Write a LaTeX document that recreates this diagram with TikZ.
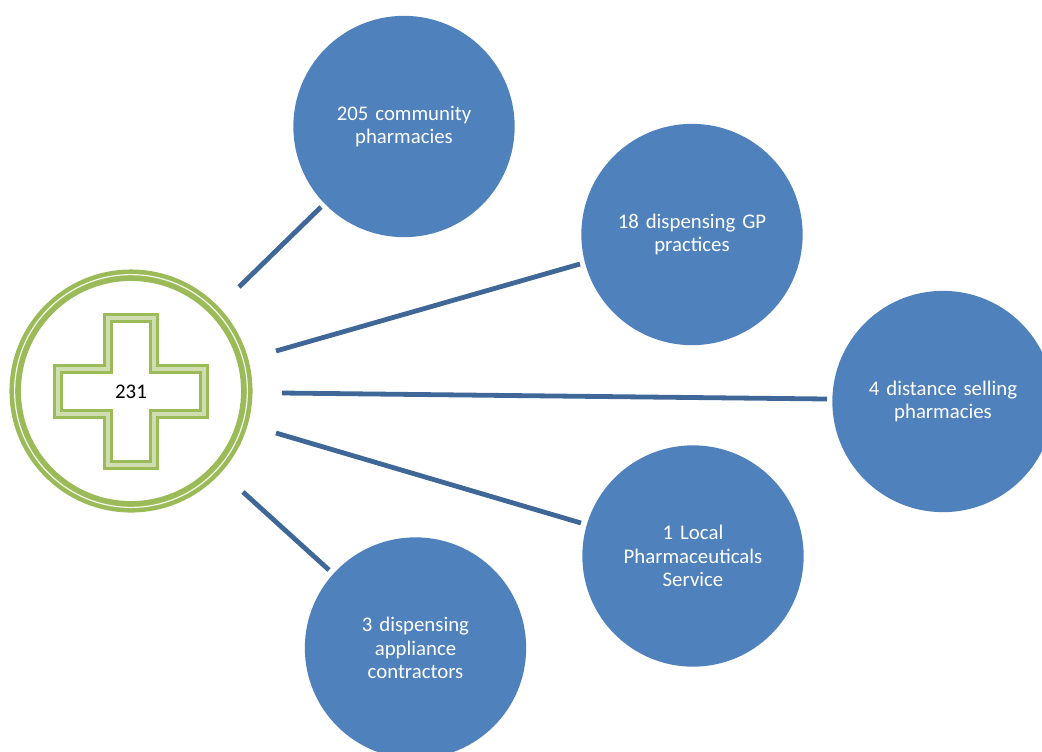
\documentclass[tikz,border=0pt]{standalone}
\usepackage{fontspec}
\setmainfont{Carlito}
\definecolor{bluefill}{HTML}{4F81BD}
\definecolor{linkblue}{HTML}{3F6797}
\definecolor{ringgreen}{HTML}{9BBB59}
\definecolor{palegreen}{HTML}{CFDDB0}
\tikzset{
  px/.style={x=0.75pt,y=-0.75pt},
  bubble/.style={circle,fill=bluefill,draw=none,minimum size=166pt,inner sep=0pt,text=white,
    font=\fontsize{15.6pt}{17.6pt}\selectfont,align=center,text width=125pt},
  link/.style={draw=linkblue,line width=3.6pt},
  ringout/.style={circle,draw=ringgreen,fill=white,line width=8.6pt,inner sep=0pt,outer sep=0pt},
  ringgapline/.style={circle,draw=white!90!ringgreen,line width=0.9pt,inner sep=0pt,outer sep=0pt},
}
\begin{document}
\begin{tikzpicture}[px]
\useasboundingbox (0,0) rectangle (1042,751);
\clip (0,0) rectangle (1042,751);
% ring
\node[ringout,minimum size=173.7pt] (ring) at (131,391) {};
\node[ringgapline,minimum size=174.6pt] (ringgap) at (131,391) {};
% cross
\def\crosspath{(108,318) -- (154,318) -- (154,369) -- (204,369) -- (204,414) -- (154,414) -- (154,465) -- (108,465) -- (108,414) -- (58,414) -- (58,369) -- (108,369) -- cycle}
\draw[ringgreen,line width=7.9pt,miter limit=4,line join=miter] \crosspath;
\draw[palegreen,line width=3.4pt,line join=miter] \crosspath;
\node[font=\fontsize{15.6pt}{17.6pt}\selectfont,text=black,inner sep=0pt] (total) at (131,392) {231};
% bubbles
\node[bubble] (a) at (404,126.5) {205 community\\pharmacies};
\node[bubble] (b) at (692,234.5) {18 dispensing GP\\practices};
\node[bubble] (c) at (943,401.5) {4 distance selling\\pharmacies};
\node[bubble] (d) at (693,556) {1 Local\\Pharmaceuticals\\Service};
\node[bubble] (e) at (415.5,648) {3 dispensing\\appliance\\contractors};
% connector ends
\coordinate (a0) at (239,287); \coordinate (a1) at (321,207);
\coordinate (b0) at (276,351); \coordinate (b1) at (580,264);
\coordinate (c0) at (282,393); \coordinate (c1) at (827,399);
\coordinate (d0) at (276,433); \coordinate (d1) at (581,523);
\coordinate (e0) at (243,492); \coordinate (e1) at (329,570);
\draw[link] (a0) -- (a1);
\draw[link] (b0) -- (b1);
\draw[link] (c0) -- (c1);
\draw[link] (d0) -- (d1);
\draw[link] (e0) -- (e1);
\end{tikzpicture}
\end{document}
